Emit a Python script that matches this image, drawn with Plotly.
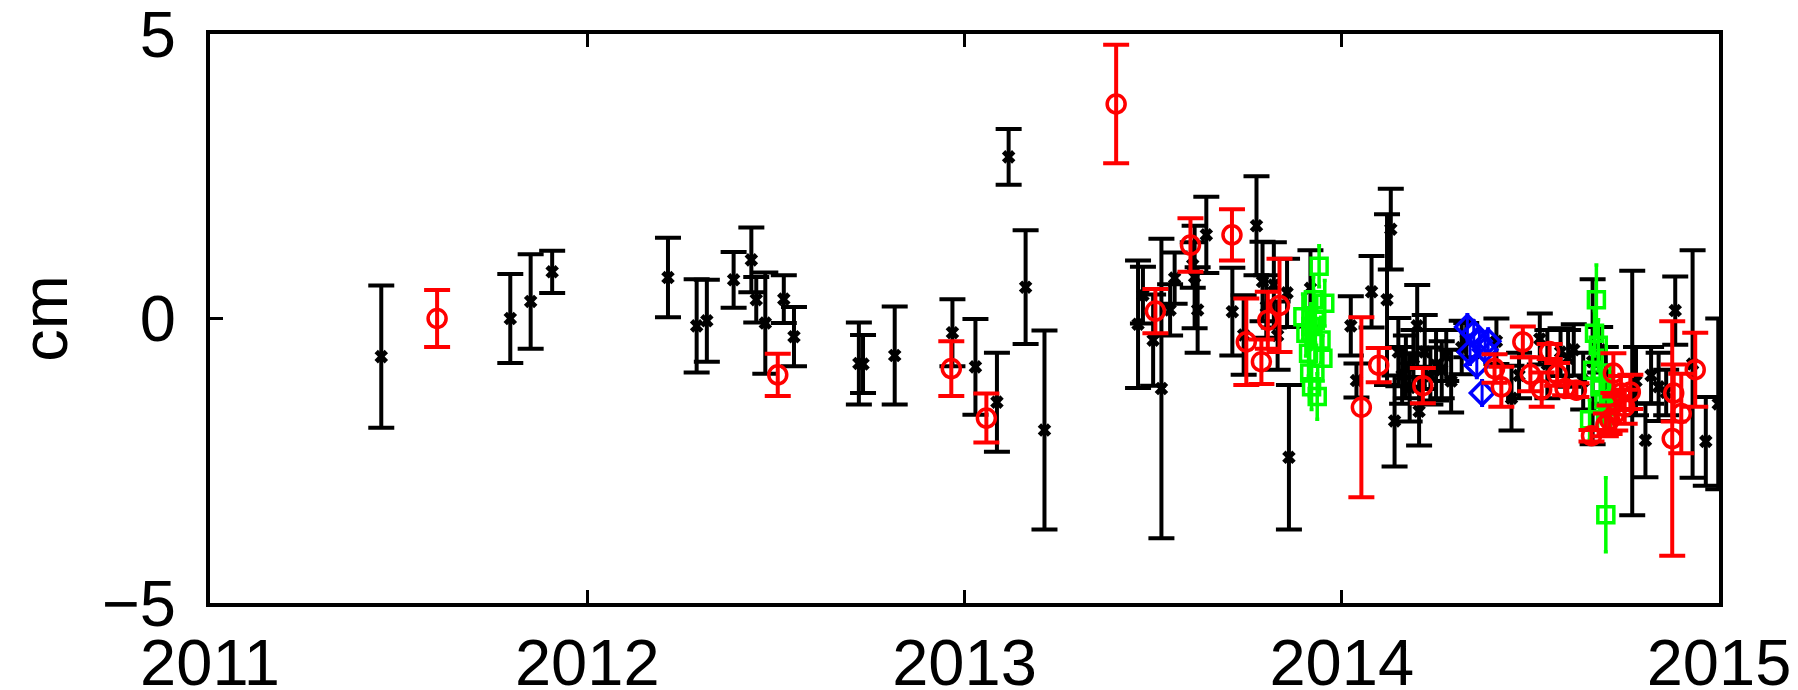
import plotly.graph_objects as go

# ---------------- data (decimal year, value in cm, error in cm) ----------------
blk_year = [2011.454, 2011.796, 2011.850, 2011.907,
            2012.214, 2012.290, 2012.317, 2012.388, 2012.435, 2012.448, 2012.472,
            2012.521, 2012.548, 2012.720, 2012.731, 2012.815, 2012.968, 2013.029,
            2013.086, 2013.117, 2013.162, 2013.212,
            2013.460, 2013.473, 2013.500, 2013.522, 2013.545, 2013.557, 2013.605,
            2013.610, 2013.618, 2013.641, 2013.710, 2013.740, 2013.774, 2013.790,
            2013.800, 2013.820, 2013.830, 2013.855, 2013.860, 2013.917,
            2014.024, 2014.039, 2014.079, 2014.120, 2014.130, 2014.140, 2014.150,
            2014.160, 2014.170, 2014.180, 2014.190, 2014.200, 2014.205, 2014.220,
            2014.235, 2014.250, 2014.265, 2014.277, 2014.290, 2014.318, 2014.330,
            2014.410, 2014.450, 2014.470, 2014.525, 2014.545, 2014.580, 2014.600,
            2014.615, 2014.640, 2014.665, 2014.685, 2014.700, 2014.770, 2014.780,
            2014.805, 2014.820, 2014.840, 2014.860, 2014.884, 2014.930, 2014.965,
            2014.998]
blk_val = [-0.67, 0.00, 0.30, 0.82,
           0.72, -0.13, -0.04, 0.68, 1.03, 0.33, -0.08,
           0.34, -0.32, -0.79, -0.80, -0.65, -0.25, -0.85,
           -1.47, 2.84, 0.55, -1.96,
           -0.10, 0.41, -0.38, -1.23, 0.15, 0.71, 0.94,
           0.73, 0.15, 1.47, 0.12, -0.29, 1.63, 0.65,
           0.21, 0.59, -0.30, 0.45, -2.44, 0.53,
           -0.13, -1.09, 0.47, 0.33, 1.57, -1.80, -0.59,
           -1.00, -0.85, -1.21, -0.70, -0.13, -1.63, -0.59,
           -1.01, -0.82, -0.90, -0.65, -1.10, -0.51, -0.38,
           -0.40, -1.40, -1.00, -0.36, -0.80, -0.59, -0.70,
           -0.55, -1.10, -0.76, -0.55, -1.00, -1.31, -1.10,
           -2.14, -1.00, -1.20, -1.30, 0.14, -0.80, -2.16,
           -1.50]
blk_err = [1.25, 0.78, 0.83, 0.37,
           0.70, 0.82, 0.72, 0.49, 0.57, 0.40, 0.89,
           0.42, 0.52, 0.72, 0.51, 0.86, 0.59, 0.84,
           0.87, 0.49, 1.00, 1.75,
           1.12, 0.50, 0.80, 2.63, 0.45, 0.45, 0.40,
           0.90, 0.75, 0.67, 0.77, 0.70, 0.87, 0.70,
           0.55, 0.75, 0.60, 0.60, 1.27, 0.67,
           0.52, 0.30, 0.63, 1.50, 0.71, 0.80, 0.60,
           0.50, 0.55, 0.60, 0.50, 0.72, 0.60, 0.65,
           0.50, 0.62, 0.50, 0.45, 0.55, 0.47, 0.30,
           0.40, 0.57, 0.40, 0.45, 0.60, 0.42, 0.50,
           0.45, 0.50, 1.45, 0.40, 0.50, 2.15, 0.60,
           0.65, 0.50, 0.60, 0.40, 0.60, 2.00, 0.78,
           1.50]

red_year = [2011.602, 2012.505, 2012.965, 2013.058, 2013.402,
            2013.506, 2013.599, 2013.709, 2013.747, 2013.787, 2013.804, 2013.835,
            2014.052, 2014.098, 2014.215, 2014.405, 2014.423, 2014.480, 2014.500,
            2014.530, 2014.551, 2014.571, 2014.592, 2014.622, 2014.662, 2014.700,
            2014.710, 2014.720, 2014.725, 2014.740, 2014.750, 2014.765, 2014.876,
            2014.880, 2014.900, 2014.937]
red_val = [0.00, -0.99, -0.88, -1.75, 3.77,
           0.13, 1.29, 1.47, -0.41, -0.76, -0.03, 0.23,
           -1.56, -0.82, -1.18, -0.88, -1.20, -0.41, -0.98,
           -1.25, -0.58, -0.98, -1.23, -1.26, -2.06, -1.87,
           -1.78, -0.96, -1.67, -1.31, -1.55, -1.29, -2.11,
           -1.31, -1.67, -0.90]
red_err = [0.50, 0.37, 0.48, 0.43, 1.04,
           0.39, 0.47, 0.45, 0.76, 0.39, 0.50, 0.82,
           1.58, 0.30, 0.31, 0.25, 0.35, 0.27, 0.30,
           0.30, 0.13, 0.20, 0.12, 0.12, 0.10, 0.20,
           0.25, 0.35, 0.30, 0.30, 0.30, 0.30, 2.06,
           0.50, 0.70, 0.65]

grn_year = [2013.897, 2013.905, 2013.912, 2013.915, 2013.918, 2013.920, 2013.925,
            2013.930, 2013.935, 2013.940, 2013.945, 2013.950, 2013.955,
            2014.657, 2014.665, 2014.670, 2014.675, 2014.680, 2014.685, 2014.690,
            2014.695, 2014.700, 2014.706, 2014.712]
grn_val = [0.03, -0.26, -0.61, -0.96, -0.14, -1.20, 0.33,
           -0.03, -1.37, 0.92, -0.38, -0.70, 0.27,
           -1.78, -0.91, -0.26, 0.33, -0.47, -1.20, -0.96,
           -1.43, -3.45, -1.67, -1.55]
grn_err = [0.40, 0.40, 0.40, 0.40, 0.40, 0.40, 0.40,
           0.40, 0.40, 0.36, 0.40, 0.40, 0.40,
           0.35, 0.40, 0.40, 0.61, 0.45, 0.40, 0.40,
           0.40, 0.65, 0.40, 0.40]

blu_year = [2014.333, 2014.340, 2014.350, 2014.358, 2014.365, 2014.372, 2014.380, 2014.388]
blu_val = [-0.15, -0.59, -0.26, -0.82, -0.40, -1.31, -0.55, -0.40]
blu_err = [0.22, 0.22, 0.22, 0.22, 0.22, 0.22, 0.22, 0.22]

x_ticks = [2011, 2012, 2013, 2014, 2015]
x_ticktext = ["2011", "2012", "2013", "2014", "2015"]
y_ticks = [-5, 0, 5]
y_ticktext = ["\u22125", "0", "5"]

FONT = "Liberation Sans, Arial, Helvetica, sans-serif"
FS = 65

fig = go.Figure()

fig.add_trace(go.Scatter(
    x=blk_year, y=blk_val, mode="markers",
    marker=dict(symbol="x", size=12, color="black", line=dict(width=0)),
    error_y=dict(type="data", array=blk_err, visible=True, color="black",
                 thickness=4, width=13),
    showlegend=False))

fig.add_trace(go.Scatter(
    x=grn_year, y=grn_val, mode="markers",
    marker=dict(symbol="square-open", size=16, color="#00ff00",
                line=dict(width=3.5, color="#00ff00")),
    error_y=dict(type="data", array=grn_err, visible=True, color="#00ff00",
                 thickness=3.5, width=2),
    showlegend=False))

fig.add_trace(go.Scatter(
    x=blu_year, y=blu_val, mode="markers",
    marker=dict(symbol="diamond-open", size=18, color="#0000ff",
                line=dict(width=3.5, color="#0000ff")),
    error_y=dict(type="data", array=blu_err, visible=True, color="#0000ff",
                 thickness=3, width=2),
    showlegend=False))

fig.add_trace(go.Scatter(
    x=red_year, y=red_val, mode="markers",
    marker=dict(symbol="circle-open", size=18, color="#ff0000",
                line=dict(width=3.5, color="#ff0000")),
    error_y=dict(type="data", array=red_err, visible=True, color="#ff0000",
                 thickness=4, width=13),
    showlegend=False))

axis_common = dict(showline=True, linecolor="black", linewidth=4, mirror="allticks",
                   ticks="inside", ticklen=13, tickwidth=3, tickcolor="black",
                   showgrid=False, zeroline=False, ticklabeloverflow="allow",
                   tickfont=dict(family=FONT, size=FS, color="black"))

fig.update_xaxes(range=[2011, 2015], tickvals=x_ticks, ticktext=x_ticktext,
                 ticklabelstandoff=0, **axis_common)
fig.update_yaxes(range=[-5, 5], tickvals=y_ticks, ticktext=y_ticktext,
                 ticklabelstandoff=17,
                 title=dict(text="cm", font=dict(family=FONT, size=FS, color="black"),
                            standoff=52),
                 **axis_common)

# the page body adds an 8 px margin, so the figure is drawn 8 px smaller and shifted
fig.update_layout(width=1790, height=682,
                  margin=dict(l=202, r=79, t=26, b=87, autoexpand=False),
                  plot_bgcolor="white", paper_bgcolor="white",
                  font=dict(family=FONT, color="black"))

fig.write_html("out.html")
